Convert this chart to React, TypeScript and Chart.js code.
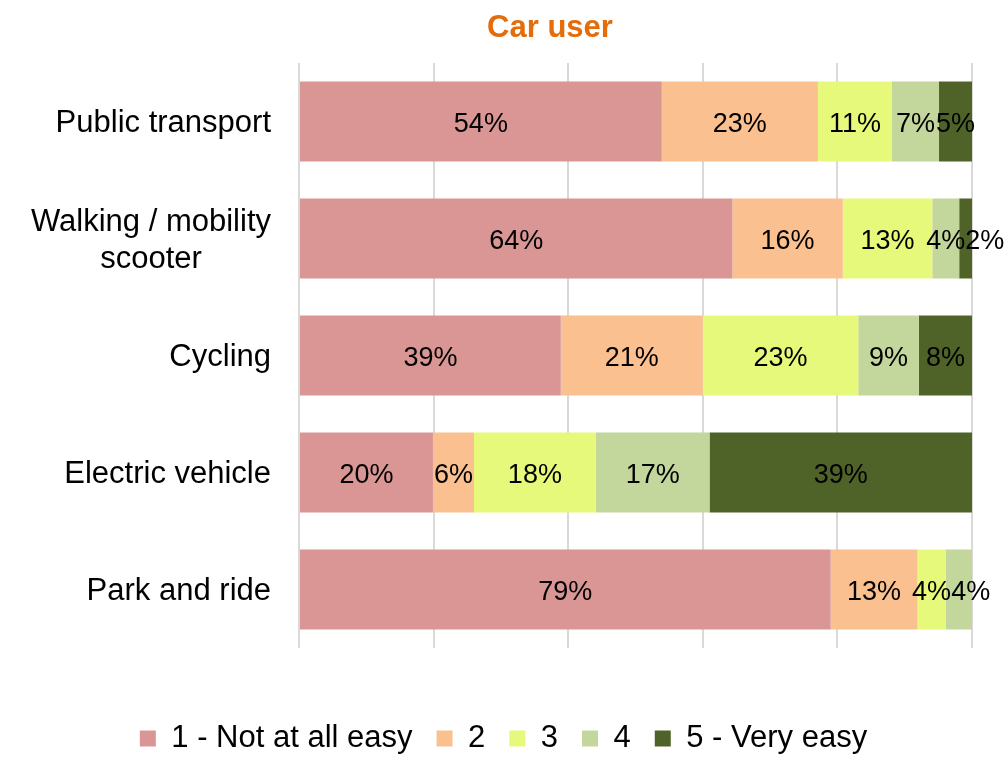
import React, { useEffect, useRef } from "react";
import { Chart, registerables } from "chart.js";

Chart.register(...registerables);

const FONT = "'Liberation Sans', Arial, Helvetica, sans-serif";

const chartTitle = "Car user";
const categories: string[][] = [
  ["Public transport"],
  ["Walking / mobility", "scooter"],
  ["Cycling"],
  ["Electric vehicle"],
  ["Park and ride"],
];
const seriesNames = ["1 - Not at all easy", "2", "3", "4", "5 - Very easy"];
const level1 = [53.9, 64.4, 38.9, 19.9, 79.0];
const level2 = [23.2, 16.4, 21.1, 6.1, 12.9];
const level3 = [11.0, 13.3, 23.1, 18.1, 4.2];
const level4 = [7.0, 4.0, 9.0, 16.9, 3.9];
const level5 = [4.9, 1.9, 7.9, 39.0, 0];
const seriesColors = ["#D99694", "#FAC090", "#E6F97A", "#C3D69B", "#4F6228"];
const xMin = 0;
const xMax = 100;
const xStep = 20;

const seriesValues = [level1, level2, level3, level4, level5];

const titlePlugin = {
  id: "chartTitleText",
  afterDraw(chart: any) {
    const ctx = chart.ctx;
    ctx.save();
    ctx.font = `bold 31px ${FONT}`;
    ctx.fillStyle = "#E46C0A";
    ctx.textBaseline = "middle";
    ctx.textAlign = "center";
    ctx.fillText(chartTitle, 550, 28.5);
    ctx.restore();
  },
};

const categoryLabelPlugin = {
  id: "categoryLabels",
  afterDraw(chart: any) {
    const ctx = chart.ctx;
    const yScale = chart.scales.y;
    const area = chart.chartArea;
    ctx.save();
    ctx.font = `31px ${FONT}`;
    ctx.fillStyle = "#000000";
    ctx.textBaseline = "middle";
    ctx.textAlign = "center";
    const lineH = 37;
    const rightEdge = area.left - 28;
    (chart.data.labels as string[][]).forEach((lines, i) => {
      const yc = yScale.getPixelForValue(i) + 2;
      const maxW = Math.max(...lines.map((l) => ctx.measureText(l).width));
      const cx = rightEdge - maxW / 2;
      const y0 = yc - ((lines.length - 1) * lineH) / 2;
      lines.forEach((l, j) => ctx.fillText(l, cx, y0 + j * lineH));
    });
    ctx.restore();
  },
};

const dataLabelPlugin = {
  id: "segmentLabels",
  afterDatasetsDraw(chart: any) {
    const ctx = chart.ctx;
    ctx.save();
    ctx.font = `27px ${FONT}`;
    ctx.fillStyle = "#000000";
    ctx.textBaseline = "middle";
    ctx.textAlign = "center";
    const n = chart.data.labels.length;
    for (let i = 0; i < n; i++) {
      let prevRight = -Infinity;
      chart.data.datasets.forEach((ds: any, di: number) => {
        const meta = chart.getDatasetMeta(di);
        if (meta.hidden) return;
        const v = ds.data[i];
        if (!v) return;
        const el = meta.data[i];
        const p = el.getProps(["x", "y", "base"], true);
        const text = Math.round(v) + "%";
        const w = ctx.measureText(text).width;
        let cx = (p.x + p.base) / 2;
        if (cx - w / 2 < prevRight) cx = prevRight + w / 2;
        prevRight = cx + w / 2;
        ctx.fillText(text, cx, p.y + 3);
      });
    }
    ctx.restore();
  },
};

export default function App() {
  const canvasRef = useRef<HTMLCanvasElement | null>(null);

  useEffect(() => {
    if (!canvasRef.current) return;
    Chart.defaults.font.family = FONT;
    const chart = new Chart(canvasRef.current, {
      type: "bar",
      data: {
        labels: categories as any,
        datasets: seriesNames.map((name, i) => ({
          label: name,
          data: seriesValues[i],
          backgroundColor: seriesColors[i],
          borderWidth: 0,
          categoryPercentage: 0.684,
          barPercentage: 1,
        })),
      },
      options: {
        indexAxis: "y",
        responsive: false,
        animation: false,
        layout: { padding: { left: 0, right: 0, top: 63, bottom: -4 } },
        scales: {
          x: {
            stacked: true,
            min: xMin,
            max: xMax,
            ticks: { display: false, stepSize: xStep },
            grid: { color: "#D9D9D9", lineWidth: 2, drawTicks: false },
            border: { display: false },
            afterFit: (scale: any) => {
              scale.height = 51;
            },
          },
          y: {
            stacked: true,
            ticks: { display: false },
            grid: { display: false },
            border: { display: false },
            afterFit: (scale: any) => {
              scale.width = 299;
            },
          },
          yRight: {
            type: "category",
            position: "right",
            ticks: { display: false },
            grid: { display: false },
            border: { display: false },
            afterFit: (scale: any) => {
              scale.width = 35;
            },
          },
        },
        plugins: {
          title: { display: false },
          legend: {
            position: "bottom",
            labels: {
              color: "#000000",
              font: { size: 31, family: FONT },
              boxWidth: 16,
              boxHeight: 16,
              padding: 24,
            },
          },
          tooltip: { enabled: false },
        },
      },
      plugins: [titlePlugin, categoryLabelPlugin, dataLabelPlugin],
    });
    return () => chart.destroy();
  }, []);

  return (
    <div style={{ position: "absolute", left: 0, top: 0, width: 1007, height: 760, background: "#ffffff" }}>
      <canvas ref={canvasRef} width={1007} height={760} style={{ display: "block" }} />
    </div>
  );
}
